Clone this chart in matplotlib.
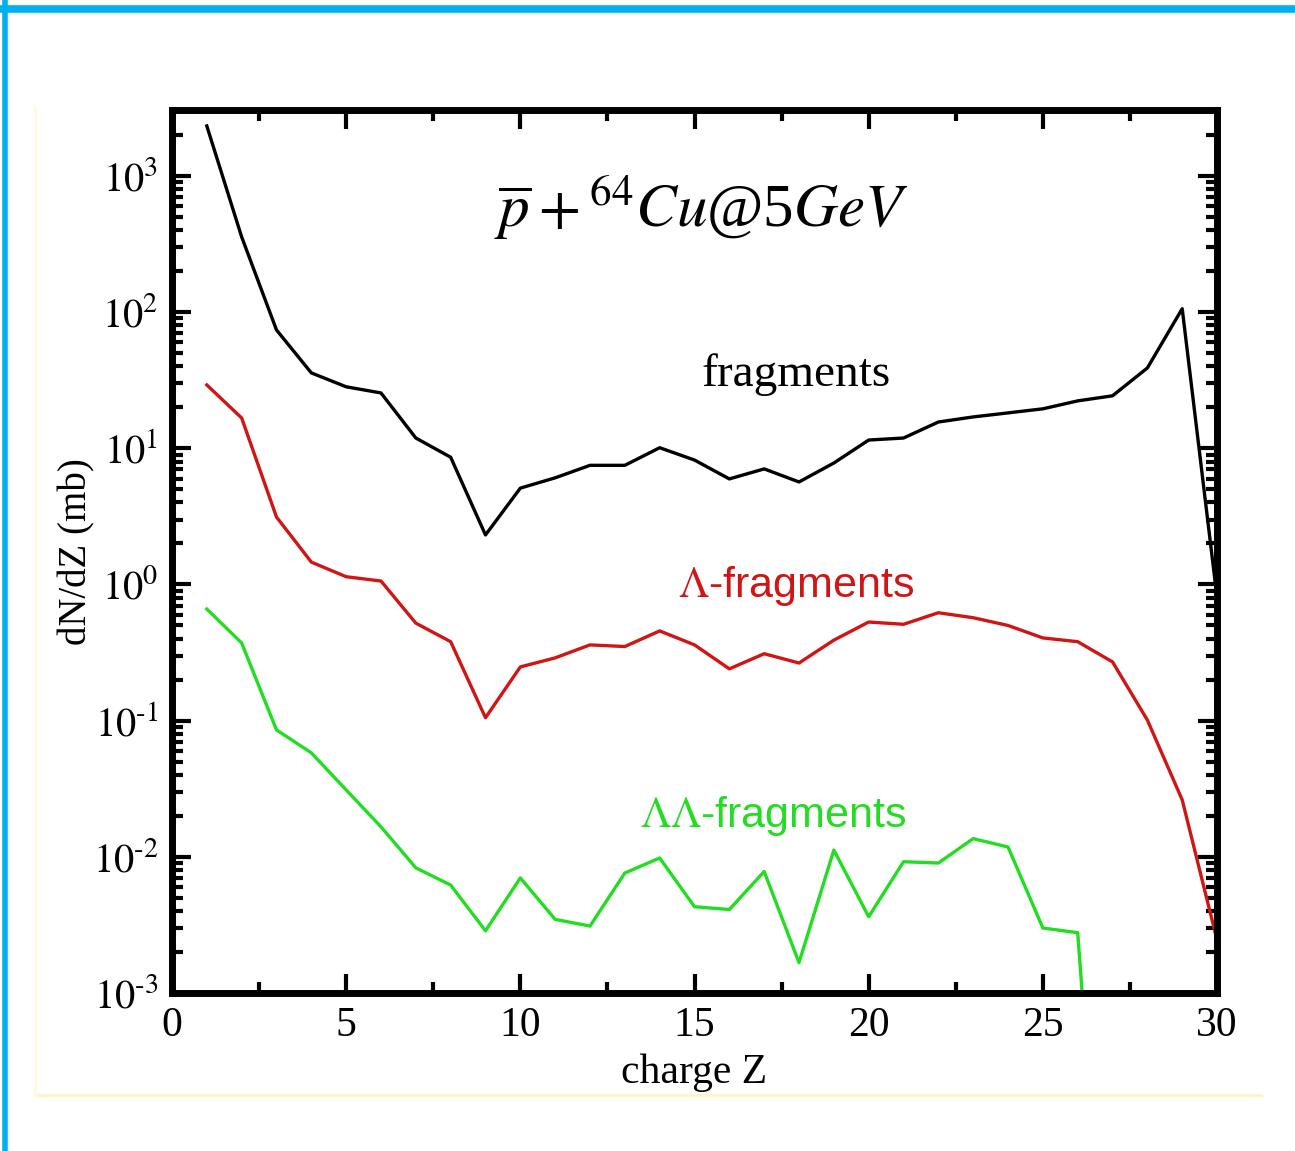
import numpy as np
import matplotlib.pyplot as plt
from matplotlib.lines import Line2D
from matplotlib.ticker import LogLocator, MultipleLocator, FixedFormatter, FixedLocator

plt.rcParams['mathtext.fontset'] = 'stix'
plt.rcParams['font.family'] = 'Liberation Serif'

charge = np.arange(1, 31)
fragments = [2330, 357, 74, 35.8, 28.3, 25.5, 11.9, 8.6, 2.31, 5.1,
             6.07, 7.5, 7.5, 10.1, 8.2, 5.96, 7.06, 5.66, 7.8, 11.5,
             11.9, 15.6, 17.0, 18.2, 19.5, 22.3, 24.3, 38.9, 106, 0.8]
lambda_frag = [29.2, 16.7, 3.13, 1.46, 1.14, 1.06, 0.52, 0.38, 0.105, 0.248,
               0.289, 0.36, 0.35, 0.456, 0.36, 0.24, 0.31, 0.265, 0.39, 0.53,
               0.51, 0.62, 0.57, 0.50, 0.405, 0.38, 0.27, 0.101, 0.0262, 0.00245]
ll_charge = np.arange(1, 28)
ll_frag = [0.66, 0.372, 0.0855, 0.058, 0.031, 0.0166, 0.0083, 0.0062, 0.00286, 0.0070,
           0.00347, 0.0031, 0.0076, 0.0098, 0.0043, 0.0041, 0.0078, 0.00167, 0.0112, 0.00363,
           0.0092, 0.0090, 0.0136, 0.0118, 0.0030, 0.00277, 1e-6]
ytick_vals = [1e-3, 1e-2, 1e-1, 1, 10, 100, 1000]
ytick_labels = [r'$10^{\text{-}3}$', r'$10^{\text{-}2}$', r'$10^{\text{-}1}$', r'$10^{0}$',
                r'$10^{1}$', r'$10^{2}$', r'$10^{3}$']

fig = plt.figure(figsize=(12.95, 11.51), dpi=100)

# page frame
fig.add_artist(Line2D([0, 1], [0.9925, 0.9925], transform=fig.transFigure, color='#00b0f0', lw=5.5))
fig.add_artist(Line2D([0.0042, 0.0042], [0, 1], transform=fig.transFigure, color='#00b0f0', lw=4))
fig.add_artist(Line2D([0.027, 0.974], [0.0485, 0.0485], transform=fig.transFigure, color='#fff6c8', lw=2.5))
fig.add_artist(Line2D([0.027, 0.027], [0.0485, 0.908], transform=fig.transFigure, color='#fffbe0', lw=2))

ax = fig.add_axes([0.1328, 0.1373, 0.807, 0.7671])
ax.plot(charge, fragments, color='black', lw=2.4)
ax.plot(charge, lambda_frag, color='#d01515', lw=2.4)
ax.plot(ll_charge, ll_frag, color='#22dd22', lw=2.4)

ax.set_yscale('log')
ax.set_xlim(0, 30)
ax.set_ylim(1e-3, 3050)

ax.xaxis.set_major_locator(MultipleLocator(5))
ax.xaxis.set_minor_locator(MultipleLocator(2.5))
ax.yaxis.set_major_locator(FixedLocator(ytick_vals))
ax.yaxis.set_major_formatter(FixedFormatter(ytick_labels))
ax.yaxis.set_minor_locator(LogLocator(base=10, subs=np.arange(2, 10), numticks=20))
ax.yaxis.set_minor_formatter(FixedFormatter([]))

ax.tick_params(which='both', direction='in', top=True, right=True, width=3)
ax.tick_params(axis='x', labelsize=30)
ax.tick_params(axis='y', labelsize=29)
ax.tick_params(which='major', length=14, pad=10)
ax.tick_params(which='minor', length=8)
for sp in ax.spines.values():
    sp.set_linewidth(5)

ax.set_xlabel('charge Z', fontsize=30, labelpad=6)
ax.set_ylabel('dN/dZ (mb)', fontsize=28)
ax.yaxis.set_label_coords(-0.073, 0.5)

ax.text(0.507, 0.89, r'$\overline{p}+{}^{64}Cu$@5$GeV$', transform=ax.transAxes,
        fontsize=44, ha='center', va='center')
ax.text(0.5975, 0.70, 'fragments', transform=ax.transAxes, fontsize=34,
        ha='center', va='center')
ax.text(0.5975, 0.461, r'$\Lambda$-fragments', transform=ax.transAxes, fontsize=31,
        ha='center', va='center', color='#d01515', family='Liberation Sans')
ax.text(0.5755, 0.2005, r'$\Lambda\Lambda$-fragments', transform=ax.transAxes, fontsize=31,
        ha='center', va='center', color='#22dd22', family='Liberation Sans')

fig.savefig('out.png', dpi=100)
